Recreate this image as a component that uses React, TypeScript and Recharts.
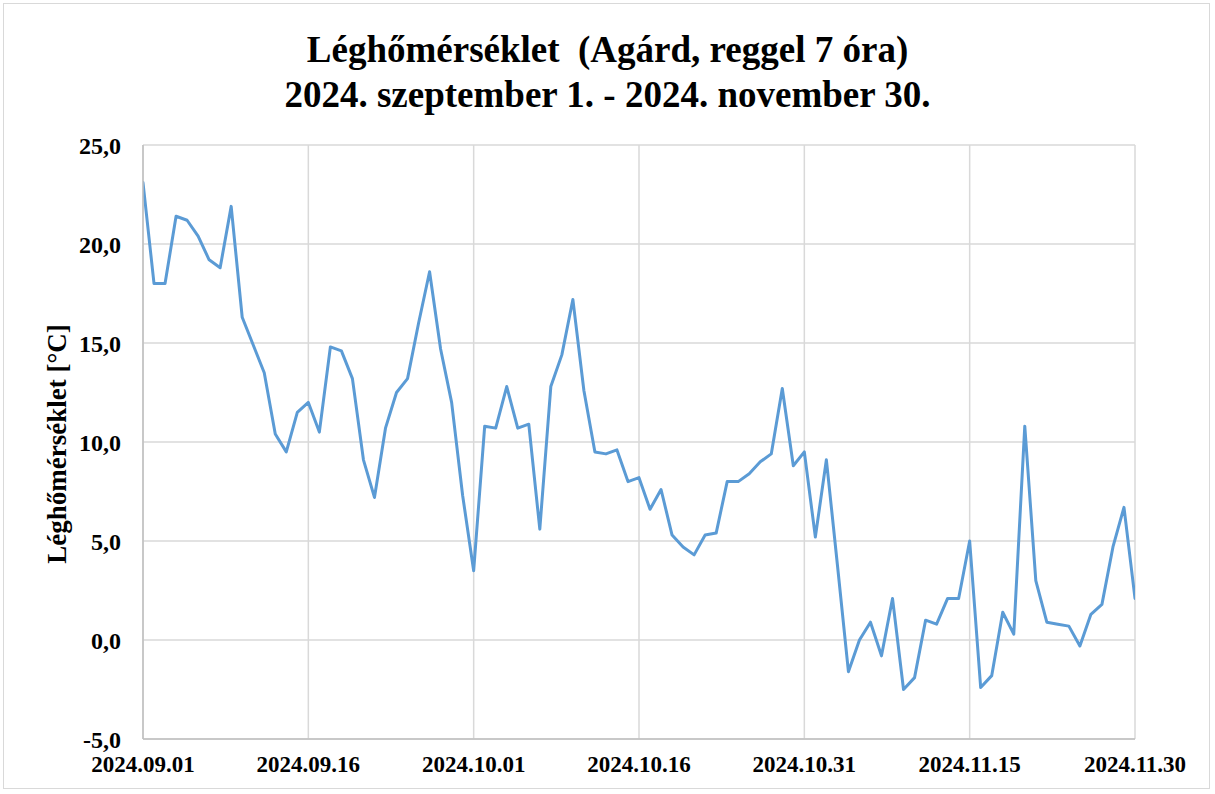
import React from 'react';
import { LineChart, Line, XAxis, YAxis, CartesianGrid } from 'recharts';

const titleLine1 = 'Léghőmérséklet  (Agárd, reggel 7 óra)';
const titleLine2 = '2024. szeptember 1. - 2024. november 30.';
const yAxisTitle = 'Léghőmérséklet [°C]';

const xTickPositions = [0, 15, 30, 45, 60, 75, 90];
const xTickLabels = ['2024.09.01', '2024.09.16', '2024.10.01', '2024.10.16', '2024.10.31', '2024.11.15', '2024.11.30'];
const yTicks = [-5, 0, 5, 10, 15, 20, 25];

const temperatures = [
  23.1, 18.0, 18.0, 21.4, 21.2, 20.4, 19.2, 18.8, 21.9, 16.3,
  14.9, 13.5, 10.4, 9.5, 11.5, 12.0, 10.5, 14.8, 14.6, 13.2,
  9.1, 7.2, 10.7, 12.5, 13.2, 16.0, 18.6, 14.7, 12.0, 7.3,
  3.5, 10.8, 10.7, 12.8, 10.7, 10.9, 5.6, 12.8, 14.4, 17.2,
  12.6, 9.5, 9.4, 9.6, 8.0, 8.2, 6.6, 7.6, 5.3, 4.7,
  4.3, 5.3, 5.4, 8.0, 8.0, 8.4, 9.0, 9.4, 12.7, 8.8,
  9.5, 5.2, 9.1, 3.8, -1.6, 0.0, 0.9, -0.8, 2.1, -2.5,
  -1.9, 1.0, 0.8, 2.1, 2.1, 5.0, -2.4, -1.8, 1.4, 0.3,
  10.8, 3.0, 0.9, 0.8, 0.7, -0.3, 1.3, 1.8, 4.7, 6.7,
  2.1,
];

const data = temperatures.map((t, i) => ({ day: i, temp: t }));

const FONT = '"Liberation Serif", "Times New Roman", serif';

export default function App() {
  return (
    <div style={{ position: 'fixed', left: 0, top: 0, width: 1215, height: 794, background: '#fff', fontFamily: FONT }}>
      <div style={{ position: 'absolute', left: 3, top: 3, width: 1207, height: 786, border: '1px solid #d9d9d9', boxSizing: 'border-box' }} />
      <div style={{ position: 'absolute', left: 0, top: 27, width: 1215, textAlign: 'center', fontWeight: 'bold', fontSize: 37, lineHeight: '45px', color: '#000', whiteSpace: 'pre' }}>
        <div>{titleLine1}</div>
        <div>{titleLine2}</div>
      </div>
      <div style={{ position: 'absolute', left: 57, top: 444, width: 0, height: 0 }}>
        <div style={{ position: 'absolute', transform: 'translate(-50%, -50%) rotate(-90deg)', whiteSpace: 'nowrap', fontWeight: 'bold', fontSize: 27, color: '#000' }}>
          {yAxisTitle}
        </div>
      </div>
      <div style={{ position: 'absolute', left: 0, top: 0 }}>
        <LineChart width={1215} height={794} data={data} margin={{ top: 145, right: 80, bottom: 0, left: 0 }}>
          <CartesianGrid stroke="#d9d9d9" strokeWidth={1.5} vertical={true} horizontal={true} />
          <XAxis
            dataKey="day"
            type="number"
            domain={[0, 90]}
            ticks={xTickPositions}
            tickFormatter={(v: number) => xTickLabels[xTickPositions.indexOf(v)]}
            height={55}
            tickLine={false}
            tickMargin={11}
            axisLine={{ stroke: '#bfbfbf', strokeWidth: 1.5 }}
            tick={{ fill: '#000', fontSize: 23, fontWeight: 'bold', fontFamily: FONT }}
            allowDataOverflow
          />
          <YAxis
            type="number"
            domain={[-5, 25]}
            ticks={yTicks}
            width={143}
            tickLine={false}
            tickMargin={16}
            axisLine={{ stroke: '#bfbfbf', strokeWidth: 1.5 }}
            tickFormatter={(v: number) => v.toFixed(1).replace('.', ',')}
            tick={{ fill: '#000', fontSize: 24, fontWeight: 'bold', fontFamily: FONT }}
            allowDataOverflow
          />
          <Line
            type="linear"
            dataKey="temp"
            stroke="#5b9bd5"
            strokeWidth={3}
            dot={false}
            activeDot={false}
            isAnimationActive={false}
            strokeLinejoin="round"
            strokeLinecap="round"
          />
        </LineChart>
      </div>
    </div>
  );
}
